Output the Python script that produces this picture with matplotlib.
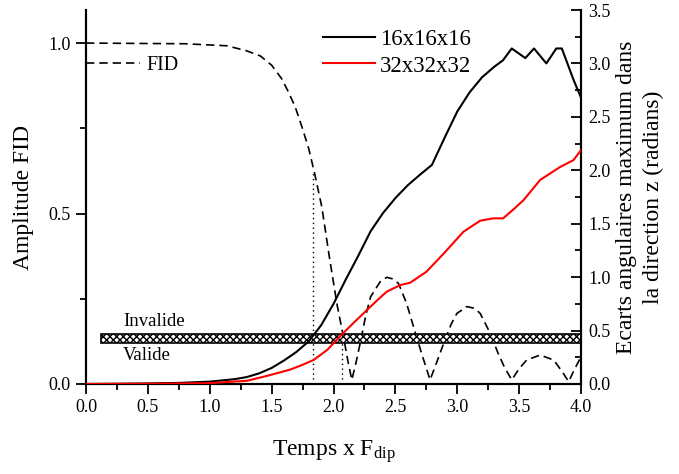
import numpy as np
import matplotlib
matplotlib.use("Agg")
import matplotlib.pyplot as plt
from matplotlib.patches import Rectangle
from matplotlib.ticker import MultipleLocator, FormatStrFormatter

plt.rcParams['font.family'] = ['Liberation Serif', 'DejaVu Serif']
plt.rcParams['mathtext.fontset'] = 'custom'
plt.rcParams['mathtext.rm'] = 'Liberation Serif'
plt.rcParams['mathtext.it'] = 'Liberation Serif'

# FID amplitude (left axis)
fid_t = [0.0, 0.8, 1.14, 1.30, 1.41, 1.50, 1.58, 1.635, 1.69, 1.744, 1.80, 1.85,
         1.905, 1.97, 2.03, 2.08, 2.12, 2.148, 2.18, 2.215, 2.26, 2.30, 2.377, 2.43,
         2.48, 2.525, 2.59, 2.67, 2.72, 2.78, 2.82, 2.89, 2.95, 2.997, 3.077, 3.14,
         3.185, 3.266, 3.33, 3.38, 3.44, 3.50, 3.56, 3.67, 3.78, 3.85, 3.90, 3.95, 4.0]
fid_a = [1.0, 0.998, 0.992, 0.977, 0.962, 0.935, 0.896, 0.857, 0.813, 0.755, 0.69, 0.613,
         0.52, 0.364, 0.23, 0.139, 0.06, 0.012, 0.06, 0.119, 0.20, 0.256, 0.30, 0.313,
         0.308, 0.295, 0.237, 0.139, 0.08, 0.012, 0.05, 0.119, 0.175, 0.207, 0.227, 0.222,
         0.207, 0.149, 0.09, 0.05, 0.012, 0.045, 0.07, 0.085, 0.07, 0.035, 0.007, 0.045, 0.08]

# max angular deviation (right axis)
t16 = [0.0, 0.25, 0.5, 0.75, 1.0, 1.2, 1.3, 1.4, 1.5, 1.6, 1.7, 1.8, 1.9, 2.0, 2.1,
       2.2, 2.3, 2.4, 2.5, 2.6, 2.7, 2.795, 2.9, 3.0, 3.1, 3.2, 3.3, 3.37, 3.44,
       3.55, 3.62, 3.72, 3.80, 3.845, 3.94, 4.0]
e16 = [0.0, 0.002, 0.005, 0.01, 0.022, 0.045, 0.065, 0.1, 0.15, 0.22, 0.3, 0.4, 0.55,
       0.75, 0.98, 1.2, 1.43, 1.6, 1.74, 1.86, 1.96, 2.05, 2.31, 2.55, 2.73, 2.87, 2.97,
       3.03, 3.14, 3.05, 3.14, 3.00, 3.14, 3.14, 2.845, 2.68]

t32 = [0.0, 0.5, 1.0, 1.3, 1.46, 1.54, 1.65, 1.74, 1.84, 1.95, 2.05, 2.16, 2.27, 2.35,
       2.43, 2.54, 2.62, 2.75, 2.89, 3.05, 3.185, 3.29, 3.37, 3.45, 3.535, 3.67, 3.83,
       3.94, 4.0]
e32 = [0.0, 0.002, 0.008, 0.03, 0.075, 0.10, 0.135, 0.175, 0.225, 0.32, 0.443, 0.57,
       0.692, 0.78, 0.864, 0.926, 0.948, 1.05, 1.22, 1.425, 1.528, 1.55, 1.55, 1.63,
       1.72, 1.91, 2.03, 2.096, 2.19]

fig = plt.figure(figsize=(6.79, 4.74), dpi=100)
ax = fig.add_axes([0.1267, 0.1899, 0.729, 0.789])
ax2 = ax.twinx()

ax.plot(fid_t, fid_a, color='black', lw=1.2, dashes=(5, 3), label='FID')

# validity band + markers
band = Rectangle((0.12, 0.119), 3.88, 0.027, facecolor='white', edgecolor='black',
                 hatch='xxxxx', lw=1.2, zorder=3)
ax.add_patch(band)
ax.text(0.3, 0.183, 'Invalide', fontsize=13.5, va='center', ha='left')
ax.text(0.3, 0.085, 'Valide', fontsize=13.5, va='center', ha='left')
ax.plot([1.835, 1.835], [0, 0.62], color='black', lw=1, ls=(0, (1, 2.5)))
ax.plot([2.07, 2.07], [0, 0.135], color='black', lw=1, ls=(0, (1, 2.5)))

ax2.plot(t16, e16, color='black', lw=1.5, label='16x16x16', zorder=4)
ax2.plot(t32, e32, color='red', lw=1.5, label='32x32x32', zorder=4)

ax.set_xlim(0, 4.0)
ax.set_ylim(0, 1.097)
ax2.set_ylim(0, 3.5)

ax.xaxis.set_major_locator(MultipleLocator(0.5))
ax.xaxis.set_minor_locator(MultipleLocator(0.25))
ax.yaxis.set_major_locator(MultipleLocator(0.5))
ax.yaxis.set_minor_locator(MultipleLocator(0.25))
ax2.yaxis.set_major_locator(MultipleLocator(0.5))
ax2.yaxis.set_minor_locator(MultipleLocator(0.25))
ax.xaxis.set_major_formatter(FormatStrFormatter('%.1f'))
ax.yaxis.set_major_formatter(FormatStrFormatter('%.1f'))
ax2.yaxis.set_major_formatter(FormatStrFormatter('%.1f'))

ax.tick_params(which='major', direction='out', length=7, width=1.3, labelsize=13, pad=4)
ax.tick_params(which='minor', direction='out', length=4.5, width=1.3)
ax2.tick_params(which='major', direction='in', length=7, width=1.3, labelsize=13, pad=5)
ax2.tick_params(which='minor', direction='in', length=4.5, width=1.3)

for a in (ax, ax2):
    a.spines['top'].set_visible(False)
    for s in ('left', 'right', 'bottom'):
        a.spines[s].set_linewidth(1.5)

ax.set_xlabel('Temps x F$_{\\mathrm{dip}}$', fontsize=17, labelpad=16)
ax.set_ylabel('Amplitude FID', fontsize=17, labelpad=10)
ax2.set_ylabel('Ecarts angulaires maximum dans\nla direction z (radians)',
               fontsize=17, labelpad=4, linespacing=1.35)

ax.legend(loc='upper left', bbox_to_anchor=(0.0, 0.878), frameon=False, fontsize=14.5,
          handlelength=2.7, handletextpad=0.3, borderaxespad=0, borderpad=0)
ax2.legend(loc='upper left', bbox_to_anchor=(0.478, 0.95), frameon=False, fontsize=16.5,
           handlelength=2.3, handletextpad=0.2, borderaxespad=0, borderpad=0,
           labelspacing=0.25)

fig.savefig('out.png', dpi=100)
